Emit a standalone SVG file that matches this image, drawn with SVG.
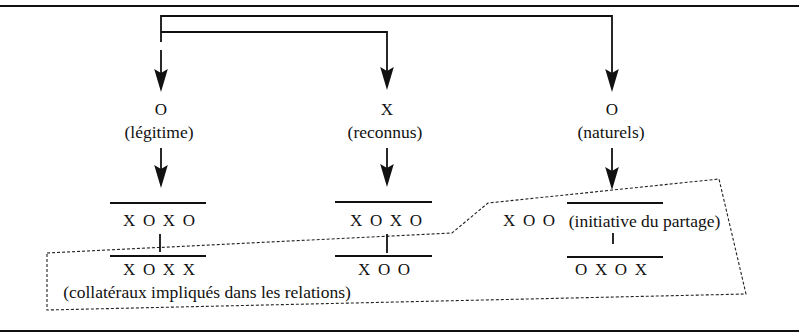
<svg xmlns="http://www.w3.org/2000/svg" width="799" height="333" viewBox="0 0 799 333">
  <defs>
    <style>
      .rule { stroke: #111; stroke-width: 2; fill: none; }
      .wire { stroke: #111; stroke-width: 1.8; fill: none; stroke-linecap: butt; }
      .bar { stroke: #111; stroke-width: 2; fill: none; }
      .zone { stroke: #222; stroke-width: 1.1; fill: none; stroke-dasharray: 3 2; }
      .sym { font-family: "Liberation Serif", "DejaVu Serif", serif; font-size: 17px; fill: #111; }
      .seq { font-family: "Liberation Serif", "DejaVu Serif", serif; font-size: 17px; fill: #111; letter-spacing: 7.6px; }
      .note { font-family: "Liberation Serif", "DejaVu Serif", serif; font-size: 17.5px; fill: #111; text-anchor: middle; }
    </style>
    <marker id="head" viewBox="-20 -8 28 16" refX="0" refY="0" markerWidth="28" markerHeight="16" markerUnits="userSpaceOnUse" orient="auto">
      <path d="M6,0 L-17,-6.8 L-13,0 L-17,6.8 Z" fill="#111"/>
    </marker>
  </defs>

  <!-- page rules -->
  <line class="rule" x1="0" y1="6" x2="799" y2="6"/>
  <line class="rule" x1="0" y1="331" x2="799" y2="331" stroke-width="2.5"/>

  <!-- dashed zone grouping the collateral lines -->
  <g id="zone">
    <polygon class="zone" points="47,253 452,233 488,203 719,179 746,294 47,310"/>
  </g>

  <g id="connectors">
    <!-- top bracket feeding the three branches -->
    <path class="wire" d="M161,42 V16 H612 V86" marker-end="url(#head)"/>
    <path class="wire" d="M161,32 H387 V84" marker-end="url(#head)"/>
    <path class="wire" d="M161,50 V86" marker-end="url(#head)"/>
    <!-- label to sequence arrows -->
    <path class="wire" d="M161,148 V182" marker-end="url(#head)"/>
    <path class="wire" d="M387,148 V181" marker-end="url(#head)"/>
    <path class="wire" d="M612,148 V184" marker-end="url(#head)"/>
    <!-- links between the two sequences of each branch -->
    <line class="wire" x1="160" y1="234" x2="160" y2="252"/>
    <line class="wire" x1="387" y1="234" x2="387" y2="253"/>
    <line class="wire" x1="613" y1="233" x2="613" y2="244"/>
  </g>

  <g id="branch-legitime">
    <text class="sym" x="161" y="115" text-anchor="middle">O</text>
    <text class="note" x="159" y="138">(légitime)</text>
  </g>
  <g id="branch-reconnus">
    <text class="sym" x="387" y="115" text-anchor="middle">X</text>
    <text class="note" x="385" y="138">(reconnus)</text>
  </g>
  <g id="branch-naturels">
    <text class="sym" x="612" y="115" text-anchor="middle">O</text>
    <text class="note" x="611" y="138">(naturels)</text>
  </g>

  <g id="seq-legitime-1">
    <line class="bar" x1="110" y1="203" x2="206" y2="203"/>
    <text class="seq" x="123" y="226">XOXO</text>
  </g>
  <g id="seq-legitime-2">
    <line class="bar" x1="110" y1="256" x2="206" y2="256"/>
    <text class="seq" x="123" y="275">XOXX</text>
  </g>
  <g id="seq-reconnus-1">
    <line class="bar" x1="335" y1="202" x2="432" y2="202"/>
    <text class="seq" x="350" y="226">XOXO</text>
  </g>
  <g id="seq-reconnus-2">
    <line class="bar" x1="335" y1="256" x2="432" y2="256"/>
    <text class="seq" x="358" y="275">XOO</text>
  </g>
  <g id="seq-naturels-1">
    <text class="seq" x="503" y="226">XOO</text>
    <line class="bar" x1="567" y1="203" x2="663" y2="203"/>
    <text class="note" x="644.5" y="227">(initiative du partage)</text>
  </g>
  <g id="seq-naturels-2">
    <line class="bar" x1="567" y1="257" x2="663" y2="257"/>
    <text class="seq" x="575" y="275">OXOX</text>
  </g>

  <g id="collateraux">
    <text class="note" x="207" y="298">(collatéraux impliqués dans les relations)</text>
  </g>
</svg>
